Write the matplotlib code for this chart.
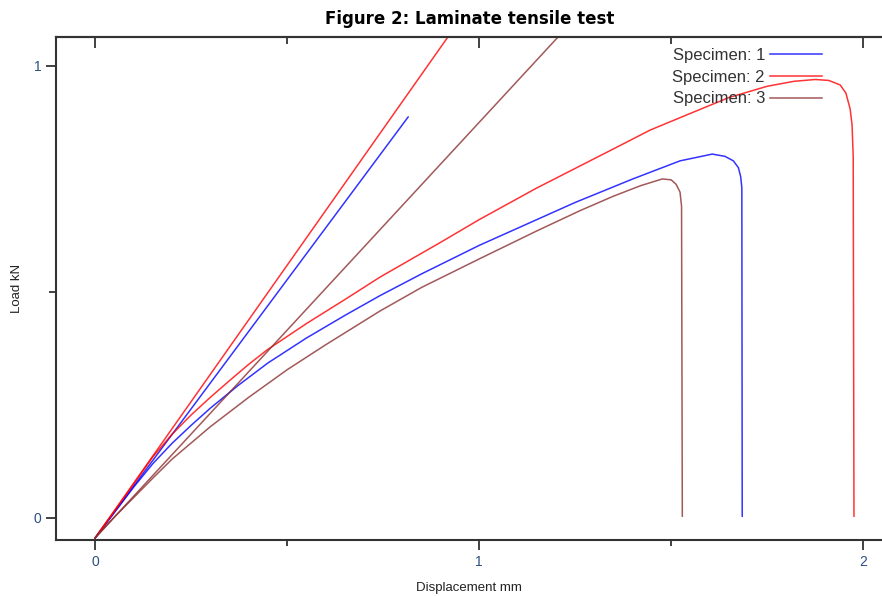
import matplotlib
matplotlib.use('Agg')
import matplotlib.pyplot as plt
from matplotlib.ticker import FixedLocator

# Specimen curves (displacement mm, load kN)
s1_x = [0.0, 0.05, 0.1, 0.15, 0.2, 0.25, 0.3, 0.372, 0.45, 0.55, 0.65, 0.742, 0.85, 1.0,
        1.15, 1.25, 1.4, 1.523, 1.607, 1.64, 1.662, 1.675, 1.681, 1.684, 1.685]
s1_y = [-0.044, 0.012, 0.068, 0.12, 0.165, 0.205, 0.243, 0.293, 0.343, 0.398, 0.448, 0.492,
        0.54, 0.603, 0.66, 0.698, 0.75, 0.79, 0.805, 0.800, 0.79, 0.775, 0.755, 0.73, 0.004]
s2_x = [0.0, 0.05, 0.1, 0.15, 0.2, 0.25, 0.3, 0.35, 0.4, 0.448, 0.55, 0.648, 0.742, 0.9,
        1.0, 1.15, 1.344, 1.445, 1.55, 1.65, 1.75, 1.82, 1.875, 1.91, 1.94, 1.955, 1.966,
        1.971, 1.974, 1.976]
s2_y = [-0.044, 0.015, 0.075, 0.135, 0.185, 0.228, 0.267, 0.304, 0.34, 0.372, 0.43, 0.482,
        0.533, 0.61, 0.66, 0.73, 0.814, 0.858, 0.895, 0.93, 0.955, 0.966, 0.970, 0.968,
        0.958, 0.94, 0.905, 0.87, 0.80, 0.004]
s3_x = [0.0, 0.05, 0.1, 0.15, 0.2, 0.3, 0.4, 0.5, 0.6, 0.742, 0.85, 1.0, 1.15, 1.263,
        1.35, 1.42, 1.477, 1.5, 1.513, 1.523, 1.527, 1.529]
s3_y = [-0.044, 0.002, 0.045, 0.088, 0.13, 0.202, 0.267, 0.328, 0.383, 0.458, 0.51, 0.573,
        0.635, 0.68, 0.712, 0.735, 0.750, 0.748, 0.738, 0.721, 0.69, 0.004]

# Initial stiffness lines
lin1_x = [0.0, 0.815]
lin1_y = [-0.044, 0.887]
lin2_x = [0.0, 0.95]
lin2_y = [-0.044, 1.102]
lin3_x = [0.0, 1.25]
lin3_y = [-0.044, 1.105]

labels = ['Specimen: 1', 'Specimen: 2', 'Specimen: 3']
colors = ['#0000ff', '#ff0000', '#8b2f2f']

plt.rcParams['font.family'] = ['Liberation Sans', 'DejaVu Sans']

fig = plt.figure(figsize=(8.82, 5.96), dpi=100)
ax = fig.add_axes([56/882, (596-540)/596, (882-56)/882, (540-37)/596])

curves = [(s1_x, s1_y), (s2_x, s2_y), (s3_x, s3_y)]
lines = [(lin1_x, lin1_y), (lin2_x, lin2_y), (lin3_x, lin3_y)]
for (cx, cy), (lx, ly), lab, col in zip(curves, lines, labels, colors):
    ax.plot(lx, ly, color=col, lw=1.1, alpha=0.8)
    ax.plot(cx, cy, color=col, lw=1.1, alpha=0.8, label=lab)

ax.set_xlim(-0.102, 2.049)
ax.set_ylim(-0.0487, 1.064)

ax.xaxis.set_major_locator(FixedLocator([0, 1, 2]))
ax.xaxis.set_minor_locator(FixedLocator([0.5, 1.5]))
ax.yaxis.set_major_locator(FixedLocator([0, 1]))
ax.yaxis.set_minor_locator(FixedLocator([0.5]))
ax.tick_params(axis='x', which='major', direction='out', length=7, width=1.3,
               colors='#333333', labelcolor='#2a4f80', labelsize=10)
ax.tick_params(axis='x', which='minor', direction='out', length=4, width=1.3, colors='#333333')
ax.tick_params(axis='y', which='major', direction='out', length=7, width=1.3,
               colors='#333333', labelcolor='#2a4f80', labelsize=10)
ax.tick_params(axis='y', which='minor', direction='out', length=5, width=1.3, colors='#333333')

# inward ticks on the top edge
top = ax.secondary_xaxis('top')
top.xaxis.set_major_locator(FixedLocator([0, 1, 2]))
top.xaxis.set_minor_locator(FixedLocator([0.5, 1.5]))
top.tick_params(which='major', direction='in', length=8, width=1.3, colors='#333333', labeltop=False)
top.tick_params(which='minor', direction='in', length=5, width=1.3, colors='#333333')
top.spines['top'].set_linewidth(1.5)
top.spines['top'].set_color('#333333')

for side in ['left', 'bottom', 'top']:
    ax.spines[side].set_linewidth(1.5)
    ax.spines[side].set_color('#333333')
ax.spines['right'].set_visible(False)

ax.set_xlabel('Displacement mm', fontsize=9.5, color='#222222', labelpad=10)
ax.set_ylabel('Load kN', fontsize=9.5, color='#222222', labelpad=8)

leg = ax.legend(loc='upper right', bbox_to_anchor=(0.941, 1.001), frameon=False,
                markerfirst=False, fontsize=12, handlelength=3.1, handletextpad=0.3,
                labelspacing=0.4, borderaxespad=0.3)
for t in leg.get_texts():
    t.set_color('#333333')

fig.text(0.532, 0.968, 'Figure 2: Laminate tensile test', ha='center', va='center',
         fontsize=12, fontweight='bold', family='DejaVu Sans')

fig.savefig('out.png', dpi=100)
